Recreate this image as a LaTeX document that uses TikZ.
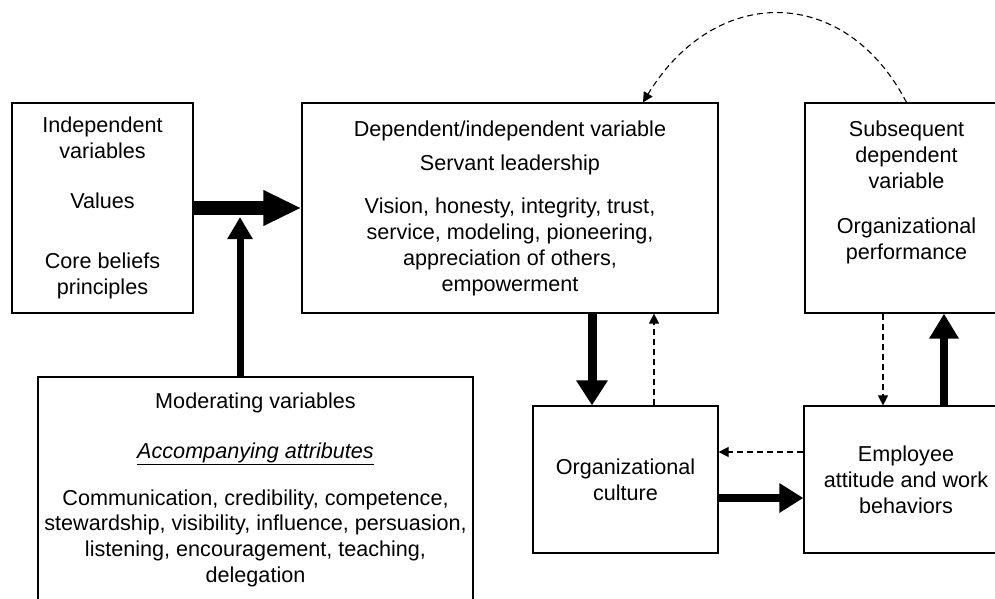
\documentclass[tikz,border=0pt]{standalone}
\usepackage{fontspec}
\setmainfont{Liberation Sans}
\usetikzlibrary{arrows.meta,calc}

\begin{document}
\begin{tikzpicture}[x=1pt,y=-1pt,
  txt/.style={align=center,font=\fontsize{21.6}{25.8}\selectfont},
  box/.style={txt,draw,line width=1.2pt,inner sep=0pt},
  solidarr/.style n args={3}{line width=#1,-{Triangle[length=#2,width=#3]}},
  dasharr/.style={line width=1.1pt,dash pattern=on 6pt off 4pt,-{Triangle[length=10pt,width=10pt]}}]
\useasboundingbox (0,0) rectangle (995,599);
\clip (0,0) rectangle (995,599);

% boxes
\node[box,minimum width=181pt,minimum height=210pt] (indep) at (102.5,208)
  {Independent\\variables\\[24pt]Values\\[35pt]Core beliefs\\principles};
\node[box,minimum width=416pt,minimum height=210pt] (servant) at (510,208)
  {Dependent/independent variable\\[9pt]Servant leadership\\[17pt]Vision, honesty, integrity, trust,\\service, modeling, pioneering,\\appreciation of others,\\empowerment};
\node[box,minimum width=203pt,minimum height=210pt] (perf) at (906.5,208) {};
\node[txt] (perftxt) at (906.5,192.5)
  {Subsequent\\dependent\\variable\\[19pt]Organizational\\performance};
\node[box,minimum width=185pt,minimum height=147pt] (culture) at (625.5,479.5)
  {Organizational\\culture};
\node[box,minimum width=204pt,minimum height=147pt] (employee) at (906,479.5)
  {Employee\\attitude and work\\behaviors};
\node[box,minimum width=435pt,minimum height=226pt] (moder) at (255.5,490)
  {Moderating variables\\[24pt]\underline{\textit{Accompanying attributes}}\\[21pt]Communication, credibility, competence,\\stewardship, visibility, influence, persuasion,\\listening, encouragement, teaching,\\delegation};

% arrows
\coordinate (meet) at (240,217);
\draw[solidarr={14pt}{38pt}{33pt}] (indep.east) -- (servant.west);
\draw[solidarr={7pt}{22pt}{24pt}] (meet |- moder.north) -- (meet);
\draw[solidarr={9pt}{25pt}{30pt}] ([xshift=-33.5pt]culture.north |- servant.south) -- ([xshift=-33.5pt]culture.north);
\draw[dasharr] ([xshift=28.5pt]culture.north) -- ([xshift=28.5pt]culture.north |- servant.south);
\draw[solidarr={8pt}{24pt}{28pt}] ([yshift=-18.5pt]culture.east) -- ([yshift=-18.5pt]culture.east -| employee.west);
\draw[dasharr] ([yshift=27.5pt]employee.west) -- ([yshift=27.5pt]employee.west -| culture.east);
\draw[dasharr] ([xshift=-23pt]employee.north |- perf.south) -- ([xshift=-23pt]employee.north);
\draw[solidarr={8pt}{25pt}{28pt}] ([xshift=38pt]employee.north) -- ([xshift=38pt]employee.north |- perf.south);
\draw[dasharr] (perf.north) .. controls (845,-16) and (715,-16) .. ([xshift=133pt]servant.north);
\end{tikzpicture}
\end{document}
